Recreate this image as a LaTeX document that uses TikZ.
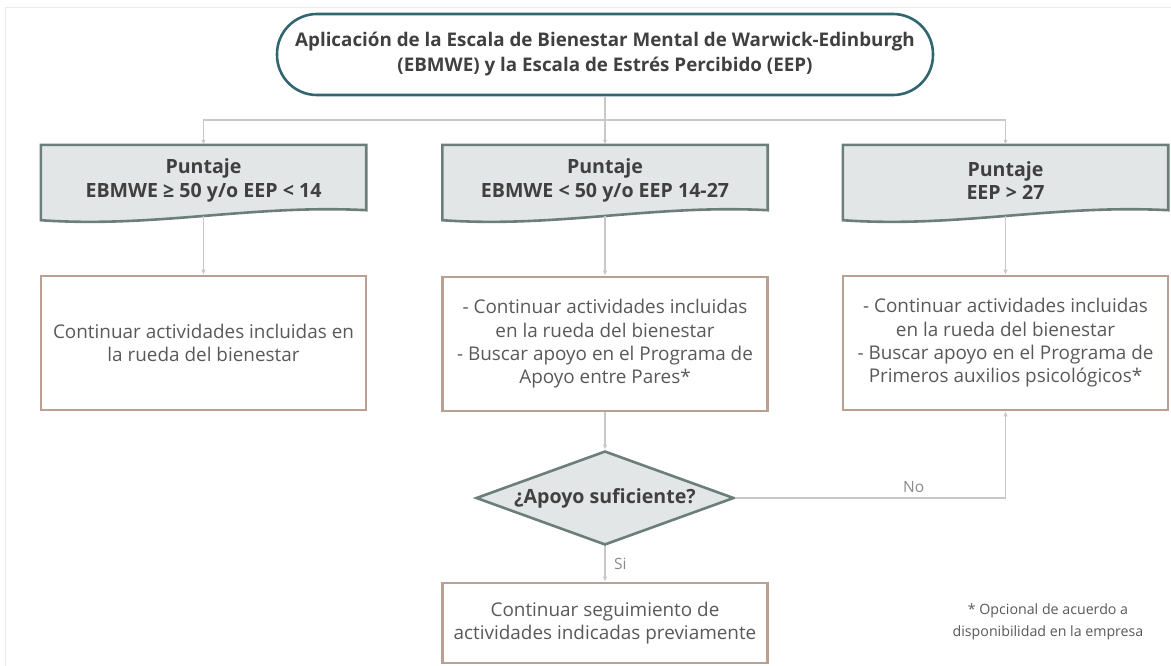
\documentclass[tikz,border=0pt]{standalone}
\usepackage{fontspec}
\setmainfont{Open Sans}
\usepackage{xcolor}
\usetikzlibrary{arrows.meta,shapes.geometric,calc,backgrounds}

\definecolor{titleline}{HTML}{31666E}
\definecolor{docedge}{HTML}{6B7E7A}
\definecolor{docfill}{HTML}{E2E6E6}
\definecolor{boxedge}{HTML}{B9A092}
\definecolor{linkgray}{HTML}{C8C8C8}
\definecolor{boldtext}{HTML}{404040}
\definecolor{bodytext}{HTML}{595959}
\definecolor{labelgray}{HTML}{8A8A8A}
\definecolor{pageframe}{HTML}{EBEBEB}

% outline of a document shape round a node
\newcommand{\docoutline}[1]{%
  \filldraw[docline] (#1.north west) -- ($(#1.south west)+(0,4)$)
    .. controls ($(#1.south west)!0.35!(#1.south east)+(0,12)$)
    and ($(#1.south west)!0.65!(#1.south east)+(0,-12)$)
    .. ($(#1.south east)+(0,-6)$) -- (#1.north east) -- cycle;}

\begin{document}
\begin{tikzpicture}[
    x=1pt, y=-1pt,
    titlebox/.style={draw=titleline, line width=2.6pt, rounded corners=40pt, minimum width=656pt, minimum height=81pt, align=center, text=boldtext, font=\bfseries\fontsize{18.8}{25}\selectfont},
    docbox/.style={minimum width=325pt, minimum height=71pt, align=center, text=boldtext, font=\bfseries\fontsize{19.6}{23.5}\selectfont},
    docline/.style={draw=docedge, fill=docfill, line width=2.6pt},
    actbox/.style={draw=boxedge, line width=2.6pt, minimum width=325pt, minimum height=134pt, align=center, text=bodytext, font=\fontsize{18.9}{23.3}\selectfont},
    decision/.style={diamond, aspect=2.74, inner sep=0pt, draw=docedge, fill=docfill, line width=2.6pt, minimum width=258pt, minimum height=94pt, text=boldtext, font=\bfseries\fontsize{19.6}{23}\selectfont},
    note/.style={align=center, text=bodytext, font=\fontsize{14.2}{21.5}\selectfont},
    lbl/.style={text=labelgray, font=\fontsize{15.5}{17}\selectfont},
    arr/.style={-{Latex[length=5pt,width=4.5pt]}, line width=1.4pt, draw=linkgray}
]
\useasboundingbox (0,0) rectangle (1171,665);
\draw[pageframe, line width=1pt] (5.5,7) rectangle (1190,690);

\node[titlebox] (scales) at (605,54.5) {Aplicación de la Escala de Bienestar Mental de Warwick-Edinburgh\\(EBMWE) y la Escala de Estrés Percibido (EEP)};

\node[docbox] (scoreA) at (203.5,180.5) {Puntaje\\EBMWE ≥ 50 y/o EEP < 14};
\node[docbox] (scoreB) at (605,180.5) {Puntaje\\EBMWE < 50 y/o EEP 14-27};
\node[docbox] (scoreC) at (1005.5,180.5) {Puntaje\\EEP > 27};

\node[actbox] (actA) at (203.5,343) {Continuar actividades incluidas en\\la rueda del bienestar};
\node[actbox] (actB) at (605,344) {- Continuar actividades incluidas\\en la rueda del bienestar\\- Buscar apoyo en el Programa de\\Apoyo entre Pares*};
\node[actbox] (actC) at (1005.5,343) {- Continuar actividades incluidas\\en la rueda del bienestar\\- Buscar apoyo en el Programa de\\Primeros auxilios psicológicos*};

\node[decision] (enough) at (605,498) {¿Apoyo suficiente?};
\node[actbox, minimum height=80pt] (follow) at (605,623) {Continuar seguimiento de\\actividades indicadas previamente};

\node[note] (footnote) at (1048,622) {* Opcional de acuerdo a\\disponibilidad en la empresa};

\coordinate (split) at (605,120);

\begin{scope}[on background layer]
\docoutline{scoreA}
\docoutline{scoreB}
\docoutline{scoreC}
\end{scope}

\draw[arr] (scales) -- (scoreB);
\draw[arr] (split) -| (scoreA.north);
\draw[arr] (split) -| (scoreC.north);
\draw[arr] (scoreA) -- (actA);
\draw[arr] (scoreB) -- (actB);
\draw[arr] (scoreC) -- (actC);
\draw[arr] (actB) -- (enough);
\draw[arr] (enough) -- node[lbl, anchor=west, xshift=5pt, pos=0.5] {Si} (follow);
\draw[arr] (enough) -| node[lbl, above, pos=0.33, yshift=1pt] {No} (actC);
\end{tikzpicture}
\end{document}
